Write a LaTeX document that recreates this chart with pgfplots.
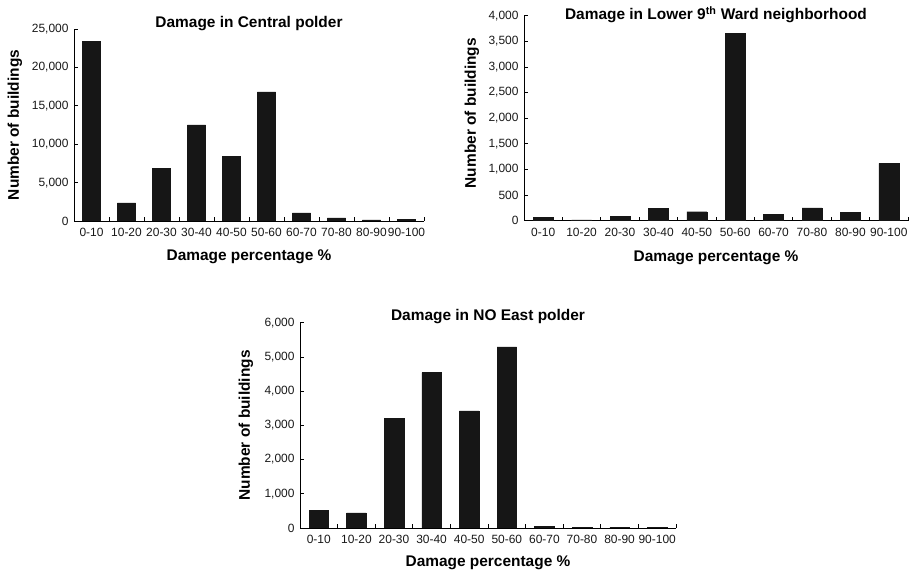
\documentclass[border=0pt]{standalone}
\usepackage{fontspec}
\setmainfont{Liberation Sans}
\usepackage{pgfplots}
\pgfplotsset{compat=1.18}
\definecolor{barblack}{HTML}{161616}
\pgfplotsset{
  dmg/.style={
    scale only axis,
    axis lines*=left,
    axis line style={black, line width=0.8bp},
    ybar, bar width=0.52,
    xmin=-0.5, xmax=9.5, ymin=0,
    xtick={-0.5,0.5,...,9.5},
    x tick label as interval,
    xticklabels={0-10,10-20,20-30,30-40,40-50,50-60,60-70,70-80,80-90,90-100},
    tick align=inside,
    major tick length=4bp,
    tick style={black, line width=0.7bp},
    /pgf/number format/assume math mode=true,
    /pgf/number format/fixed,
    /pgf/number format/1000 sep={,},
    scaled y ticks=false,
    tick label style={font=\fontsize{12}{14}\selectfont, text=black!90},
    xticklabel style={yshift=-4bp},
    yticklabel style={xshift=-2bp},
    label style={font=\bfseries\fontsize{15.5}{18}\selectfont},
    every axis title shift=0pt,
    title style={font=\bfseries\fontsize{15.5}{18}\selectfont, at={(axis description cs:0.5,1)}, anchor=center},
    xlabel={Damage percentage \%},
    ylabel={Number of buildings},
    xlabel style={at={(axis description cs:0.5,0)}, anchor=center, yshift=-36bp},
    ylabel style={at={(axis description cs:0,0.5)}, anchor=center},
  }
}
\begin{document}
\begin{tikzpicture}
\path[use as bounding box] (0,0) rectangle (916bp,572bp);
% Central polder
\begin{axis}[dmg, at={(74bp,351bp)}, anchor=south west,
  width=350bp, height=192bp,
  ymax=25000, ytick={0,5000,...,25000},
  title={Damage in Central polder}, title style={yshift=5bp},
  ylabel style={yshift=59bp}]
\addplot[fill=barblack, draw=barblack] coordinates {(0,23400) (1,2350) (2,6900) (3,12500) (4,8450) (5,16800) (6,1050) (7,400) (8,150) (9,250)};
\end{axis}
% Lower 9th Ward
\begin{axis}[dmg, at={(524bp,351.3bp)}, anchor=south west,
  width=384bp, height=205bp,
  ymax=4000, ytick={0,500,...,4000},
  title={Damage in Lower 9\textsuperscript{th} Ward neighborhood}, title style={yshift=1bp},
  ylabel style={yshift=52bp, xshift=5bp}, xlabel style={yshift=-1bp}]
\addplot[fill=barblack, draw=barblack] coordinates {(0,60) (1,15) (2,80) (3,240) (4,175) (5,3660) (6,125) (7,250) (8,165) (9,1120)};
\end{axis}
% NO East polder
\begin{axis}[dmg, at={(300bp,44bp)}, anchor=south west,
  width=376bp, height=205.3bp,
  ymax=6000, ytick={0,1000,...,6000},
  title={Damage in NO East polder}, title style={yshift=6bp},
  ylabel style={yshift=54bp}, xlabel style={yshift=1bp}]
\addplot[fill=barblack, draw=barblack] coordinates {(0,520) (1,440) (2,3200) (3,4540) (4,3420) (5,5290) (6,50) (7,20) (8,20) (9,20)};
\end{axis}
\end{tikzpicture}
\end{document}
